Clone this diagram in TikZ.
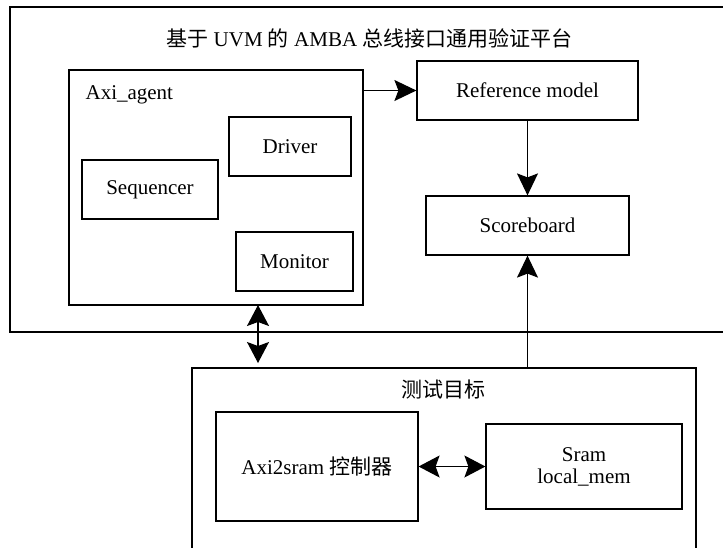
\documentclass[tikz,border=0pt]{standalone}
\usepackage{fontspec}
\setmainfont{Liberation Serif}
\newfontfamily\cjk{Noto Sans CJK SC}
\usetikzlibrary{arrows.meta,calc}
\begin{document}
\begin{tikzpicture}[x=1pt,y=-1pt,line width=1.2pt,
  font=\fontsize{21pt}{25pt}\selectfont,
  box/.style n args={2}{draw,inner sep=0pt,minimum width=#1,minimum height=#2,align=center},
  flow/.style={-{Stealth[length=22pt,width=21pt,inset=4pt]}},
  both/.style={{Stealth[length=21pt,width=22pt,inset=4pt]}-{Stealth[length=21pt,width=22pt,inset=4pt]}}]
  % canvas
  \fill[white] (0,0) rectangle (723,547);
  \useasboundingbox (0,0) rectangle (723,547);

  % verification platform frame (runs off the right edge)
  \draw (740,7) -- (10,7) -- (10,332) -- (740,332);
  \node (title) at (369.5,38) {{\cjk 基于} UVM {\cjk 的} AMBA {\cjk 总线接口通用验证平台}};

  % agent and its components
  \node[box={294pt}{235pt}] (agent) at (216,187.5) {};
  \node[anchor=west,inner sep=0pt] (agentlabel) at (85,95) {Axi\_agent};
  \node[box={122pt}{59pt}] (driver) at (290,146.5) {Driver};
  \node[box={136pt}{59pt}] (seq) at (150,189.5) {Sequencer};
  \node[box={117pt}{59pt}] (mon) at (294.5,261.5) {Monitor};

  % reference model and scoreboard
  \node[box={221pt}{59pt}] (ref) at (527.5,90.5) {Reference model};
  \node[box={203pt}{59pt}] (score) at (527.5,225.5) {Scoreboard};

  % device under test frame (open at the bottom)
  \draw (192,560) -- (192,368) -- (696,368) -- (696,560);
  \node (dut) at (443.5,390) {\cjk 测试目标};
  \node[box={202pt}{109pt}] (ctrl) at (317,466.5) {Axi2sram {\cjk 控制器}};
  \node[box={196pt}{85pt}] (sram) at (584,466.5) {Sram\\[-3pt]local\_mem};

  % connection points
  \coordinate (dtop) at (258,305);
  \coordinate (dbot) at (258,363);
  \coordinate (dutin) at (score.south |- 0,368);

  % connectors
  \draw[flow] (ref.west -| agent.east) -- (ref.west);
  \draw[flow] (ref.south) -- (score.north);
  \draw[flow] (dutin) -- (score.south);
  \draw[both] (dtop) -- (dbot);
  \draw[both] (ctrl.east) -- (sram.west);
\end{tikzpicture}
\end{document}
